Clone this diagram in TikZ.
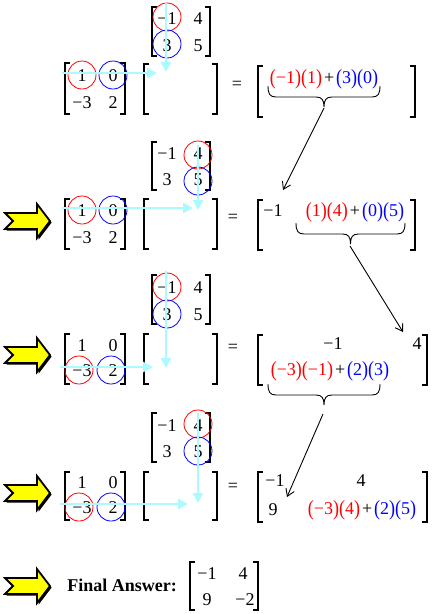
\documentclass[tikz,border=0pt]{standalone}
\usepackage{fontspec}
\usepackage{graphicx}
\setmainfont{Liberation Serif}
\usetikzlibrary{arrows.meta}
\definecolor{cyanarr}{RGB}{170,250,255}
\definecolor{yel}{RGB}{255,255,0}
\tikzset{
  ent/.style={inner sep=0pt, font=\fontsize{18}{20}\selectfont},
  rc/.style={circle, draw=red, line width=0.8pt, minimum size=28pt, inner sep=0pt},
  bc/.style={circle, draw=blue, line width=0.8pt, minimum size=28pt, inner sep=0pt},
  brk/.style={line width=1.1pt, line cap=butt},
  brc/.style={line width=0.9pt},
  cyanline/.style={draw=cyanarr, line width=2.6pt, -{Triangle[length=10pt,width=10pt]}},
  blk/.style={line width=0.9pt, -{Straight Barb[length=7pt,width=9pt]}},
  yarr/.style={fill=yel, draw=black, line width=1.8pt, line join=miter},
}
\newcommand\mbr[4]{%
  \draw[brk] (#1+5,#3) -- (#1,#3) -- (#1,#4) -- (#1+5,#4);
  \draw[brk] (#2-5,#3) -- (#2,#3) -- (#2,#4) -- (#2-5,#4);}
\newcommand\ubr[3]{%
  \pgfmathsetmacro\bmid{(#1+#2)/2}%
  \draw[brc] (#1,#3) .. controls (#1,#3+8) and (#1+2,#3+11) .. (#1+8,#3+11)
    -- (\bmid-8,#3+11) .. controls (\bmid-2,#3+11) and (\bmid,#3+14) .. (\bmid,#3+21)
    .. controls (\bmid,#3+14) and (\bmid+2,#3+11) .. (\bmid+8,#3+11)
    -- (#2-8,#3+11) .. controls (#2-2,#3+11) and (#2,#3+8) .. (#2,#3);}
\newcommand\yarrow[1]{%
  \fill[black, shift={(1.6,#1+1.6)}] (5,-8) -- (37,-8) -- (37,-17) -- (50,0) -- (37,17) -- (37,8) -- (5,8) -- (13,0) -- cycle;
  \draw[yarr, shift={(0,#1)}] (5,-8) -- (37,-8) -- (37,-17) -- (50,0) -- (37,17) -- (37,8) -- (5,8) -- (13,0) -- cycle;}
\newcommand\rd[1]{\textcolor{red}{#1}}
\newcommand\bl[1]{\textcolor{blue}{#1}}
\newcommand\pl{\hspace{2pt}+\hspace{2pt}}
\newcommand\pr[1]{\raisebox{-0.05em}{\scalebox{1}[1.2]{(}}#1\raisebox{-0.05em}{\scalebox{1}[1.2]{)}}}
\begin{document}
\begin{tikzpicture}[x=1pt,y=-1pt]
\useasboundingbox (0,0) rectangle (434,614);
% ---------------- Section 1
\mbr{152}{210}{7}{56}
\node[rc] (b1r) at (167,17) {};
\node[bc] (b1b) at (167,44) {};
\node[ent] (b1-11) at (167,19) {−1};
\node[ent] (b1-12) at (198,19) {4};
\node[ent] (b1-21) at (167,46) {3};
\node[ent] (b1-22) at (198,46) {5};
\mbr{65}{125}{63}{114}
\node[rc] (a1r) at (82,75) {};
\node[bc] (a1b) at (113,75) {};
\node[ent] (a1-11) at (82,76) {1};
\node[ent] (a1-12) at (113,76) {0};
\node[ent] (a1-21) at (82,103) {−3};
\node[ent] (a1-22) at (113,103) {2};
\mbr{144}{217}{64}{114}
\node[ent] (eq1) at (237,85) {=};
\mbr{258}{415}{66}{117}
\node[ent] (x1) at (324,79) {\rd{\pr{−1}\pr{1}}\pl\bl{\pr{3}\pr{0}}};
\ubr{268}{380}{86}
\coordinate (t1) at (324,108);
\coordinate (h1) at (283,190);
\draw[blk] (t1) -- (h1);
\coordinate (v1a) at (166,3);
\coordinate (v1b) at (166,72);
\coordinate (w1a) at (62,73);
\coordinate (w1b) at (157,73);
\draw[cyanline] (v1a) -- (v1b);
\draw[cyanline] (w1a) -- (w1b);
% ---------------- Section 2
\yarrow{221}
\mbr{152}{210}{142}{190}
\node[rc] (b2r) at (198,155) {};
\node[bc] (b2b) at (198,181) {};
\node[ent] (b2-11) at (167,154) {−1};
\node[ent] (b2-12) at (198,154) {4};
\node[ent] (b2-21) at (167,180) {3};
\node[ent] (b2-22) at (198,180) {5};
\mbr{65}{125}{199}{249}
\node[rc] (a2r) at (82,210) {};
\node[bc] (a2b) at (113,210) {};
\node[ent] (a2-11) at (82,211) {1};
\node[ent] (a2-12) at (113,211) {0};
\node[ent] (a2-21) at (82,238) {−3};
\node[ent] (a2-22) at (113,238) {2};
\mbr{144}{217}{199}{249}
\node[ent] (eq2) at (233,218) {=};
\mbr{258}{415}{200}{250}
\node[ent] (r2-11) at (273,211) {−1};
\node[ent] (x2) at (355,212) {\rd{\pr{1}\pr{4}}\pl\bl{\pr{0}\pr{5}}};
\ubr{296}{405}{223}
\coordinate (t2) at (350,246);
\coordinate (h2) at (403,332);
\draw[blk] (t2) -- (h2);
\coordinate (v2a) at (198,145);
\coordinate (v2b) at (198,210);
\coordinate (w2a) at (62,208);
\coordinate (w2b) at (193,208);
\draw[cyanline] (v2a) -- (v2b);
\draw[cyanline] (w2a) -- (w2b);
% ---------------- Section 3
\yarrow{355}
\mbr{152}{210}{275}{324}
\node[rc] (b3r) at (167,287) {};
\node[bc] (b3b) at (167,314) {};
\node[ent] (b3-11) at (167,288) {−1};
\node[ent] (b3-12) at (198,288) {4};
\node[ent] (b3-21) at (167,315) {3};
\node[ent] (b3-22) at (198,315) {5};
\mbr{65}{125}{334}{384}
\node[rc] (a3r) at (79,370) {};
\node[bc] (a3b) at (111,370) {};
\node[ent] (a3-11) at (82,346) {1};
\node[ent] (a3-12) at (113,346) {0};
\node[ent] (a3-21) at (82,371) {−3};
\node[ent] (a3-22) at (113,371) {2};
\mbr{144}{217}{334}{384}
\node[ent] (eq3) at (233,348) {=};
\mbr{258}{427}{335}{385}
\node[ent] (r3-11) at (333,344) {−1};
\node[ent] (r3-12) at (417,344) {4};
\node[ent] (x3) at (330,371) {\rd{\pr{−3}\pr{−1}}\pl\bl{\pr{2}\pr{3}}};
\ubr{268}{380}{384}
\coordinate (t3) at (323,414);
\coordinate (h3) at (287,497);
\draw[blk] (t3) -- (h3);
\coordinate (v3a) at (166,271);
\coordinate (v3b) at (166,368);
\coordinate (w3a) at (60,367);
\coordinate (w3b) at (153,367);
\draw[cyanline] (v3a) -- (v3b);
\draw[cyanline] (w3a) -- (w3b);
% ---------------- Section 4
\yarrow{493}
\mbr{152}{210}{413}{462}
\node[rc] (b4r) at (198,424) {};
\node[bc] (b4b) at (198,451) {};
\node[ent] (b4-11) at (167,426) {−1};
\node[ent] (b4-12) at (198,426) {4};
\node[ent] (b4-21) at (167,452) {3};
\node[ent] (b4-22) at (198,452) {5};
\mbr{65}{125}{472}{520}
\node[rc] (a4r) at (79,507) {};
\node[bc] (a4b) at (111,507) {};
\node[ent] (a4-11) at (82,483) {1};
\node[ent] (a4-12) at (113,483) {0};
\node[ent] (a4-21) at (82,508) {−3};
\node[ent] (a4-22) at (113,508) {2};
\mbr{144}{217}{472}{520}
\node[ent] (eq4) at (233,487) {=};
\mbr{258}{427}{472}{522}
\node[ent] (r4-11) at (275,481) {−1};
\node[ent] (r4-12) at (361,481) {4};
\node[ent] (r4-21) at (273,510) {9};
\node[ent] (x4) at (362,510) {\rd{\pr{−3}\pr{4}}\pl\bl{\pr{2}\pr{5}}};
\coordinate (v4a) at (198,413);
\coordinate (v4b) at (198,503);
\coordinate (w4a) at (60,504);
\coordinate (w4b) at (188,504);
\draw[cyanline] (v4a) -- (v4b);
\draw[cyanline] (w4a) -- (w4b);
% ---------------- Final
\yarrow{586}
\node[ent, font=\bfseries\fontsize{18}{20}\selectfont] (fa) at (122,585) {Final Answer:};
\mbr{190}{258}{562}{610}
\node[ent] (f-11) at (207,574) {−1};
\node[ent] (f-12) at (243,574) {4};
\node[ent] (f-21) at (207,600) {9};
\node[ent] (f-22) at (245,600) {−2};
\end{tikzpicture}
\end{document}
